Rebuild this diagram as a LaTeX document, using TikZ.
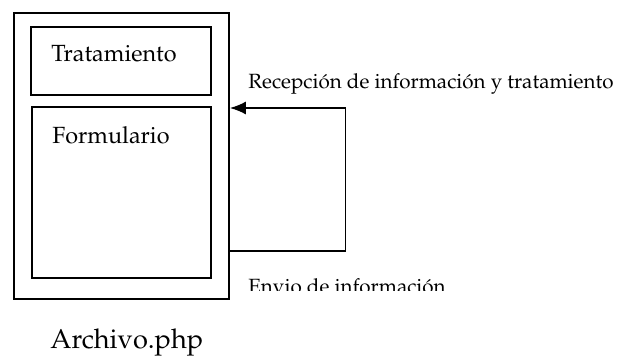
\documentclass[tikz,border=0pt]{standalone}
\usepackage[T1]{fontenc}
\renewcommand{\rmdefault}{ppl}
\usepackage{tikz}
\usetikzlibrary{arrows.meta,positioning}

\begin{document}
\begin{tikzpicture}[x=0.5pt,y=-0.5pt]
			\tikzstyle{Box}		= [draw, line width=0.9pt, inner sep=0pt]
			\tikzstyle{Label}	= [anchor=base west, inner sep=0pt, font=\fontsize{11.7}{14}\selectfont]
			\tikzstyle{Small}	= [Label, font=\fontsize{10.3}{13}\selectfont]
			\tikzstyle{Big}		= [Label, font=\fontsize{13.6}{16}\selectfont]
			\tikzstyle{Flow}	= [line width=0.8pt]

			\useasboundingbox (0,0) rectangle (617,358);

			\node (outer) at (121.5,156) [Box, minimum width=107.5pt, minimum height=143pt] {};
			\node (trat) at (121,61) [Box, minimum width=90pt, minimum height=34pt] {};
			\node (form) at (121.5,192.5) [Box, minimum width=89.5pt, minimum height=85.5pt] {};

			\node (tratlbl) at (51,61.5) [Label] {Tratamiento};
			\node (formlbl) at (52,144) [Label] {Formulario};
			\node (file) at (50,349) [Big] {Archivo.php};
			\node (recv) at (248,88.5) [Small] {Recepción de información y tratamiento};
			\begin{scope}
				\clip (240,265) rectangle (480,291);
				\node (send) at (248,293) [Small] {Envio de información};
			\end{scope}

			\coordinate (bendB) at (345.5,251);
			\coordinate (bendT) at (345.5,108);

			\draw [-{Latex[length=8pt,width=6.5pt]}] (outer.east |- bendB) -- (bendB) -- (bendT) -- (outer.east |- bendT) [Flow];
\end{tikzpicture}
\end{document}
